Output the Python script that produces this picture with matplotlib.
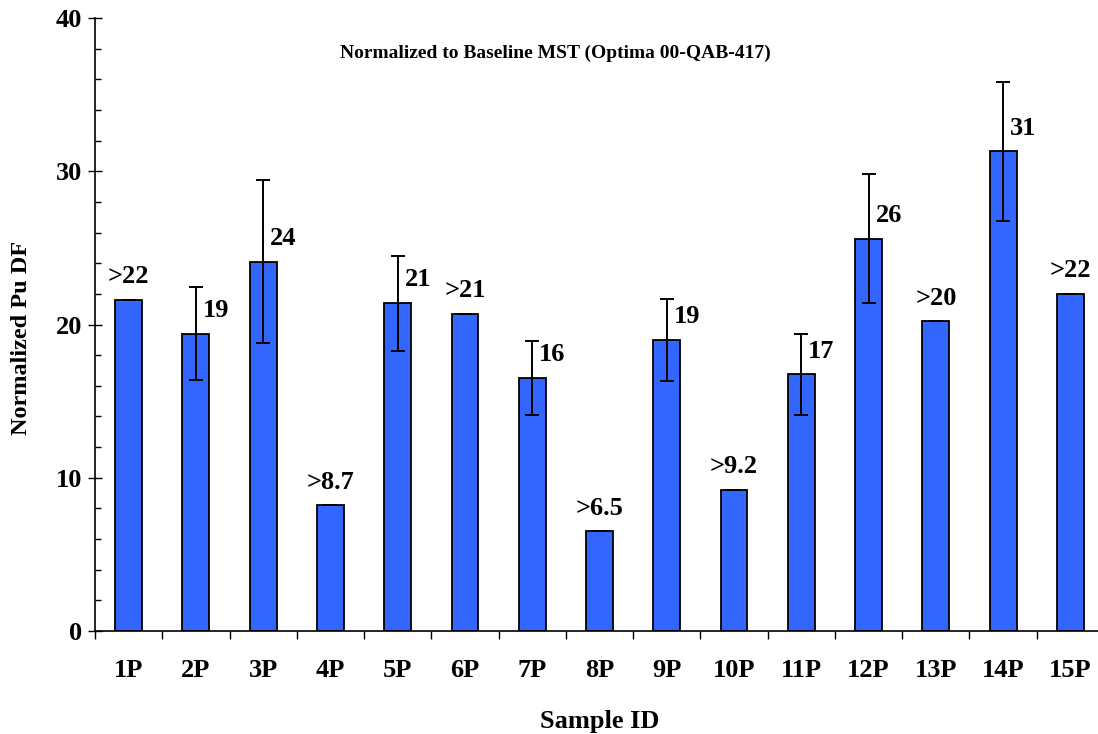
import numpy as np
import matplotlib
matplotlib.use("Agg")
import matplotlib.pyplot as plt
from matplotlib.ticker import MultipleLocator, FixedLocator

plt.rcParams['font.family'] = ['Liberation Serif', 'DejaVu Serif']
plt.rcParams['font.weight'] = 'bold'

# Pu decontamination factors, normalized to the baseline MST
samples = ['1P', '2P', '3P', '4P', '5P', '6P', '7P', '8P',
           '9P', '10P', '11P', '12P', '13P', '14P', '15P']
df_values = [21.6, 19.4, 24.1, 8.2, 21.4, 20.7, 16.5, 6.5,
             19.0, 9.2, 16.75, 25.6, 20.2, 31.3, 22.0]
df_errors = [0, 3.05, 5.3, 0, 3.1, 0, 2.43, 0,
             2.66, 0, 2.65, 4.2, 0, 4.55, 0]
# bars with a ">" label are lower bounds (no uncertainty shown)
bar_labels = ['>22', '19', '24', '>8.7', '21', '>21', '16', '>6.5',
              '19', '>9.2', '17', '26', '>20', '31', '>22']

fig = plt.figure(figsize=(10.98, 7.34), dpi=100)
ax = fig.add_axes([95 / 1098, 103 / 734, 1009 / 1098, 613 / 734])

x = np.arange(len(samples))
ax.bar(x, df_values, width=0.4, color='#3366FF', edgecolor='black',
       linewidth=1.3, zorder=2)
ax.errorbar(x, df_values, yerr=df_errors, fmt='none', ecolor='black',
            elinewidth=1.4, capsize=5, capthick=1.4, zorder=3)

for xi, val, err, lab in zip(x, df_values, df_errors, bar_labels):
    if lab.startswith('>'):
        ax.annotate(lab, (xi, val), xytext=(0, 12), textcoords='offset points',
                    ha='center', va='baseline', fontsize=19, fontweight='bold')
    else:
        ax.annotate(lab, (xi, val), xytext=(5, 12), textcoords='offset points',
                    ha='left', va='baseline', fontsize=19, fontweight='bold')

ax.set_xlim(-0.5, len(samples) - 0.5)
ax.set_ylim(0, 40)

# y axis: crossing major ticks, inward minor ticks
ax.yaxis.set_major_locator(MultipleLocator(10))
ax.yaxis.set_minor_locator(MultipleLocator(2))
ax.tick_params(axis='y', which='major', direction='inout', length=10,
               width=1, labelsize=19, pad=4)
ax.tick_params(axis='y', which='minor', direction='in', length=4.5, width=1)

# x axis: labels at bar centres, ticks between categories
ax.set_xticks(x)
ax.set_xticklabels(samples)
ax.xaxis.set_minor_locator(FixedLocator(np.arange(len(samples)) - 0.5))
ax.tick_params(axis='x', which='major', length=0, labelsize=19, pad=20)
ax.tick_params(axis='x', which='minor', direction='out', length=6, width=1)
for t in ax.get_xticklabels() + ax.get_yticklabels():
    t.set_fontweight('bold')

ax.spines['top'].set_visible(False)
ax.spines['right'].set_visible(False)
ax.spines['left'].set_linewidth(1.2)
ax.spines['bottom'].set_linewidth(1.2)

ax.set_xlabel('Sample ID', fontsize=19, fontweight='bold', labelpad=20)
ax.set_ylabel('Normalized Pu DF', fontsize=17.5, fontweight='bold')
ax.yaxis.set_label_coords(-0.062, 0.478)

ax.text(0.456, 0.942, 'Normalized to Baseline MST (Optima 00-QAB-417)',
        transform=ax.transAxes, ha='center', va='center',
        fontsize=14, fontweight='bold')

fig.savefig('out.png', dpi=100)
